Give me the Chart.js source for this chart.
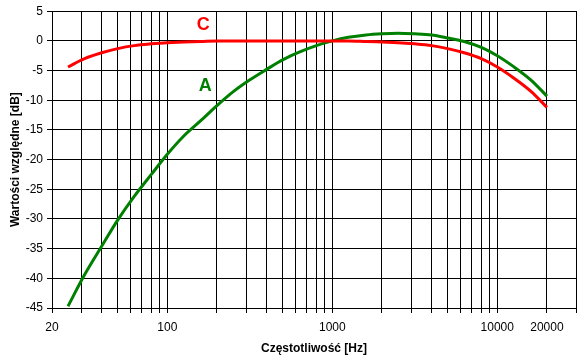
<!DOCTYPE html>
<html><head><meta charset="utf-8">
<script src="https://cdn.jsdelivr.net/npm/chart.js@4/dist/chart.umd.min.js"></script>
<style>html,body{margin:0;padding:0;background:#fff}</style>
</head><body>
<canvas id="c" width="588" height="364"></canvas>
<script>
const frequencies = [25, 31.5, 40, 50, 63, 80, 100, 125, 160, 200, 250, 315, 400, 500, 630, 800, 1000, 1250, 1600, 2000, 2500, 3150, 4000, 5000, 6300, 8000, 10000, 12500, 16000, 20000];
const weightA = [-44.7, -39.4, -34.6, -30.2, -26.2, -22.5, -19.1, -16.1, -13.4, -10.9, -8.6, -6.6, -4.8, -3.2, -1.9, -0.8, 0, 0.6, 1.0, 1.2, 1.3, 1.2, 1.0, 0.5, -0.1, -1.1, -2.5, -4.3, -6.6, -9.3];
const weightC = [-4.4, -3.0, -2.0, -1.3, -0.8, -0.5, -0.3, -0.2, -0.1, 0, 0, 0, 0, 0, 0, 0, 0, 0, -0.1, -0.2, -0.3, -0.5, -0.8, -1.3, -2.0, -3.0, -4.4, -6.2, -8.5, -11.2];
const xGrid = [20, 30, 40, 50, 60, 70, 80, 90, 100, 200, 300, 400, 500, 600, 700, 800, 900, 1000, 2000, 3000, 4000, 5000, 6000, 7000, 8000, 9000, 10000, 20000, 30000];
const xLabels = [20, 100, 1000, 10000, 20000];
const yTicks = [5, 0, -5, -10, -15, -20, -25, -30, -35, -40, -45];
const seriesNames = ['A', 'C'];

const FONT = 'Liberation Sans, Arial, sans-serif';

const labelPlugin = {
  id: 'curveLabels',
  afterDatasetsDraw(chart) {
    const ctx = chart.ctx;
    const xs = chart.scales.x, ys = chart.scales.y;
    ctx.save();
    ctx.font = 'bold 18px ' + FONT;
    ctx.textAlign = 'center';
    ctx.textBaseline = 'middle';
    ctx.fillStyle = '#FF0000';
    ctx.fillText(seriesNames[1], xs.getPixelForValue(165), ys.getPixelForValue(2.6));
    ctx.fillStyle = '#008000';
    ctx.fillText(seriesNames[0], xs.getPixelForValue(170), ys.getPixelForValue(-7.6));
    ctx.restore();
  }
};

new Chart(document.getElementById('c'), {
  type: 'line',
  data: {
    datasets: [
      { label: 'C', data: frequencies.map((f, i) => ({x: f, y: weightC[i]})), borderColor: '#FF0000', borderWidth: 3, pointRadius: 0, cubicInterpolationMode: 'monotone', fill: false },
      { label: 'A', data: frequencies.map((f, i) => ({x: f, y: weightA[i]})), borderColor: '#008000', borderWidth: 3, pointRadius: 0, cubicInterpolationMode: 'monotone', fill: false }
    ]
  },
  options: {
    responsive: false,
    animation: false,
    devicePixelRatio: 1,
    layout: { padding: { top: 9, right: 12, left: 0, bottom: 0 } },
    plugins: { legend: { display: false }, tooltip: { enabled: false } },
    scales: {
      x: {
        type: 'logarithmic', min: 20, max: 30000,
        afterBuildTicks(s) { s.ticks = xGrid.map(v => ({ value: v })); },
        afterFit(s) { s.height = 56; },
        ticks: {
          autoSkip: false, maxRotation: 0, minRotation: 0, color: '#000', padding: 7,
          font: { family: FONT, size: 12 },
          callback: (v) => xLabels.includes(v) ? String(v) : ''
        },
        grid: { color: '#000', lineWidth: 1, tickLength: 5, drawTicks: true },
        border: { color: '#000', width: 1 },
        title: { display: true, text: 'Częstotliwość [Hz]', color: '#000', font: { family: FONT, size: 12, weight: 'bold' }, padding: { top: 2, bottom: 8 } }
      },
      y: {
        min: -45, max: 5,
        afterBuildTicks(s) { s.ticks = yTicks.map(v => ({ value: v })); },
        afterFit(s) { s.width = 52; },
        ticks: { color: '#000', padding: 4, font: { family: FONT, size: 12 } },
        grid: { color: '#000', lineWidth: 1, tickLength: 5 },
        border: { color: '#000', width: 1 },
        title: { display: true, text: 'Wartości względne [dB]', color: '#000', font: { family: FONT, size: 12, weight: 'bold' }, padding: { top: 8, bottom: 0 } }
      }
    }
  },
  plugins: [labelPlugin, {
    id: 'frame',
    afterDraw(chart) {
      const a = chart.chartArea, ctx = chart.ctx;
      ctx.save(); ctx.strokeStyle = '#000'; ctx.lineWidth = 1;
      ctx.strokeRect(Math.round(a.left) + 0.5, Math.round(a.top) + 0.5, Math.round(a.right - a.left), Math.round(a.bottom - a.top));
      ctx.restore();
    }
  }]
});
</script>
</body></html>
